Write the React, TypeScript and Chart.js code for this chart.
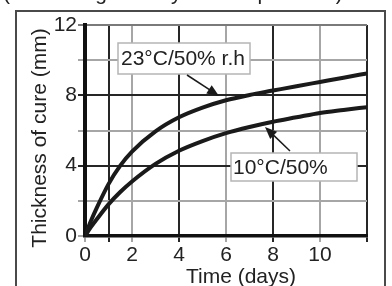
import { useEffect, useRef } from 'react';
import { Chart, registerables } from 'chart.js';

Chart.register(...registerables);

const days = [0, 0.25, 0.5, 1, 1.5, 2, 3, 4, 5, 6, 7, 8, 9, 10, 11, 12];
const cure23 = [0, 0.85, 1.6, 2.95, 4.0, 4.8, 5.95, 6.75, 7.3, 7.72, 8.02, 8.27, 8.52, 8.76, 9.0, 9.25];
const cure10 = [0, 0.5, 0.95, 1.8, 2.5, 3.1, 4.1, 4.85, 5.4, 5.85, 6.2, 6.5, 6.75, 7.0, 7.17, 7.33];

const xTickValues = [0, 1, 2, 4, 6, 8, 10, 12];
const xTickLabels = ['0', '', '2', '4', '6', '8', '10', ''];
const xDarkLines = [1, 4, 8, 12];
const yTickLabelValues = [0, 4, 8, 12];
const yDarkLines = [4, 8];

const label23 = '23°C/50% r.h';
const label10 = '10°C/50%';
const xTitle = 'Time (days)';
const yTitle = 'Thickness of cure (mm)';
const caption = '(Increasing cure by the temperature)';

const FAMILY = '"Liberation Sans", Arial, Helvetica, sans-serif';
const DARK = '#262626';
const GRAY = '#a6a6a6';

function arrow(ctx: CanvasRenderingContext2D, x1: number, y1: number, x2: number, y2: number) {
  const ang = Math.atan2(y2 - y1, x2 - x1);
  const len = 12;
  const hw = 5;
  ctx.save();
  ctx.strokeStyle = '#1a1a1a';
  ctx.fillStyle = '#1a1a1a';
  ctx.lineWidth = 1.5;
  ctx.beginPath();
  ctx.moveTo(x1, y1);
  ctx.lineTo(x2 - Math.cos(ang) * len * 0.8, y2 - Math.sin(ang) * len * 0.8);
  ctx.stroke();
  ctx.beginPath();
  ctx.moveTo(x2, y2);
  ctx.lineTo(x2 - Math.cos(ang) * len - Math.sin(ang) * hw, y2 - Math.sin(ang) * len + Math.cos(ang) * hw);
  ctx.lineTo(x2 - Math.cos(ang) * len + Math.sin(ang) * hw, y2 - Math.sin(ang) * len - Math.cos(ang) * hw);
  ctx.closePath();
  ctx.fill();
  ctx.restore();
}

function labelBox(ctx: CanvasRenderingContext2D, text: string, x: number, y: number, w: number, h: number, tx: number, ty: number) {
  ctx.save();
  ctx.fillStyle = '#ffffff';
  ctx.fillRect(x, y, w, h);
  ctx.strokeStyle = '#b5b5b5';
  ctx.lineWidth = 1.5;
  ctx.strokeRect(x, y, w, h);
  ctx.fillStyle = '#222';
  ctx.font = `21px ${FAMILY}`;
  ctx.textAlign = 'left';
  ctx.textBaseline = 'alphabetic';
  ctx.fillText(text, tx, ty);
  ctx.restore();
}

const decorPlugin = {
  id: 'decor',
  beforeDraw(chart: any) {
    const ctx = chart.ctx as CanvasRenderingContext2D;
    ctx.save();
    ctx.fillStyle = '#ffffff';
    ctx.fillRect(0, 0, chart.width, chart.height);
    ctx.strokeStyle = '#4a4a4a';
    ctx.lineWidth = 2;
    ctx.beginPath();
    ctx.moveTo(16, 290);
    ctx.lineTo(16, 11);
    ctx.lineTo(385, 11);
    ctx.lineTo(385, 290);
    ctx.stroke();
    ctx.fillStyle = '#222';
    ctx.font = `21px ${FAMILY}`;
    ctx.textAlign = 'left';
    ctx.textBaseline = 'alphabetic';
    ctx.fillText(caption, 3, 0);
    ctx.restore();
  },
  afterDraw(chart: any) {
    const ctx = chart.ctx as CanvasRenderingContext2D;
    ctx.save();
    ctx.fillStyle = '#222';
    ctx.font = `21px ${FAMILY}`;
    ctx.textAlign = 'center';
    ctx.textBaseline = 'alphabetic';
    ctx.fillText(xTitle, 241, 283);
    ctx.translate(46, 138);
    ctx.rotate(-Math.PI / 2);
    ctx.fillText(yTitle, 0, 0);
    ctx.restore();

    labelBox(ctx, label23, 118, 43, 132, 31, 121, 65);
    labelBox(ctx, label10, 231, 153, 126, 28, 233, 174);
    arrow(ctx, 187, 75, 219, 96);
    arrow(ctx, 290, 151, 265, 127);
  },
};

export default function App() {
  const ref = useRef<HTMLCanvasElement | null>(null);

  useEffect(() => {
    if (!ref.current) return;
    const chart = new Chart(ref.current, {
      type: 'line',
      data: {
        datasets: [
          {
            label: label23,
            data: days.map((d, i) => ({ x: d, y: cure23[i] })),
            borderColor: '#1a1a1a',
            borderWidth: 4,
            pointRadius: 0,
            cubicInterpolationMode: 'monotone',
            fill: false,
          },
          {
            label: label10,
            data: days.map((d, i) => ({ x: d, y: cure10[i] })),
            borderColor: '#1a1a1a',
            borderWidth: 4,
            pointRadius: 0,
            cubicInterpolationMode: 'monotone',
            fill: false,
          },
        ],
      },
      options: {
        responsive: false,
        animation: false,
        devicePixelRatio: 1,
        layout: { padding: { left: 18, top: 25, right: 25, bottom: 0 } },
        plugins: { legend: { display: false }, tooltip: { enabled: false } },
        scales: {
          x: {
            type: 'linear',
            min: 0,
            max: 12,
            afterBuildTicks: (scale: any) => {
              scale.ticks = xTickValues.map((v) => ({ value: v }));
            },
            afterFit: (scale: any) => {
              scale.height = 50;
            },
            ticks: {
              autoSkip: false,
              maxRotation: 0,
              padding: 1,
              color: '#222',
              font: { family: FAMILY, size: 21 },
              callback: (v: any) => {
                const i = xTickValues.indexOf(Number(v));
                return i >= 0 ? xTickLabels[i] : '';
              },
            },
            grid: {
              color: (c: any) => (xDarkLines.includes(c.tick?.value) ? DARK : GRAY),
              lineWidth: 2,
              tickLength: 6,
            },
            border: { display: true, color: '#111', width: 3.5 },
          },
          y: {
            type: 'linear',
            min: 0,
            max: 12,
            ticks: {
              stepSize: 2,
              padding: 1,
              color: '#222',
              font: { family: FAMILY, size: 21 },
              callback: (v: any) => (yTickLabelValues.includes(Number(v)) ? String(v) : ''),
            },
            afterFit: (scale: any) => {
              scale.width = 67;
            },
            grid: {
              color: (c: any) => (yDarkLines.includes(c.tick?.value) ? DARK : c.tick?.value === 12 ? '#7a7a7a' : GRAY),
              lineWidth: 2,
              tickLength: 7,
            },
            border: { display: true, color: '#111', width: 4 },
          },
        },
      },
      plugins: [decorPlugin],
    } as any);
    return () => chart.destroy();
  }, []);

  return (
    <div style={{ position: 'fixed', left: 0, top: 0, width: 392, height: 286 }}>
      <canvas ref={ref} width={392} height={286} style={{ display: 'block' }} />
    </div>
  );
}
